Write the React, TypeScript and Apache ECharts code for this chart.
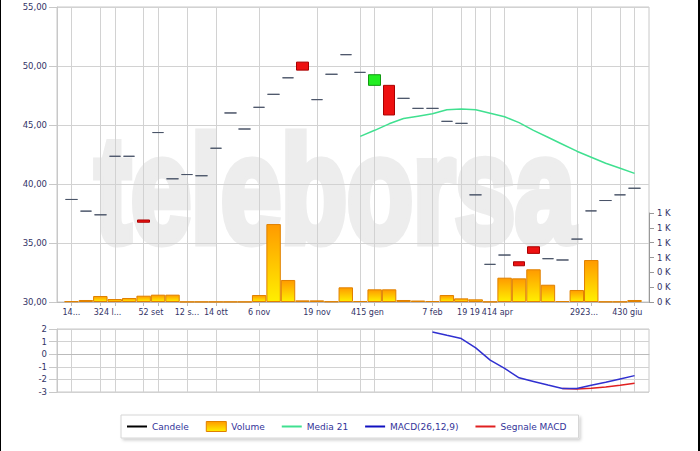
import React, { useEffect, useRef } from 'react';
import * as echarts from 'echarts';

// sessions that carry a vertical grid line / tick (data index)
const tickSessions = [0, 2, 3, 5, 6, 8, 10, 13, 17, 20, 21, 25, 27, 28, 29, 30, 35, 36, 38, 39];
// x-axis labels as the reference prints them, with the sessions they belong to
const xLabelTexts = ['14...', '324 l...', '52 set', '12 s...', '14 ott', '6 nov', '19 nov', '415 gen', '7 feb', '19 19', '414 apr', '2923...', '430 giu'];
const xLabelSessions = [[0], [2, 3], [5, 6], [8], [10], [13], [17], [20, 21], [25], [27, 28], [29, 30], [35, 36], [38, 39]];

const openPrices = [
  38.69, 37.7, 37.39, 42.35, 42.35, 36.95, 44.36, 40.44, 40.8, 40.7,
  43.03, 46.02, 44.66, 46.5, 47.6, 49.0, 50.33, 47.15, 49.3, 50.96,
  49.46, 48.36, 48.36, 47.26, 46.41, 46.41, 45.31, 45.14, 39.08, 33.19,
  33.98, 33.41, 34.68, 33.67, 33.56, 35.33, 37.72, 38.6, 39.08, 39.64,
];
const closePrices = [
  38.69, 37.7, 37.39, 42.35, 42.35, 36.76, 44.36, 40.44, 40.8, 40.7,
  43.03, 46.02, 44.66, 46.5, 47.6, 49.0, 49.65, 47.15, 49.3, 50.96,
  49.46, 49.26, 45.85, 47.26, 46.41, 46.41, 45.31, 45.14, 39.08, 33.19,
  33.98, 33.07, 34.12, 33.67, 33.56, 35.33, 37.72, 38.6, 39.08, 39.64,
];
const volumes = [
  10, 27, 81, 40, 54, 85, 99, 99, 3, 3,
  3, 3, 3, 94, 1051, 297, 22, 22, 8, 198,
  13, 171, 171, 27, 20, 13, 94, 49, 36, 5,
  328, 319, 441, 233, 13, 162, 566, 5, 5, 27,
];
const media21 = [
  null, null, null, null, null, null, null, null, null, null,
  null, null, null, null, null, null, null, null, null, null,
  44.04, 44.55, 45.1, 45.55, 45.75, 45.95, 46.3, 46.35, 46.3, 46.0,
  45.7, 45.2, 44.55, 43.96, 43.37, 42.78, 42.27, 41.76, 41.34, 40.9,
];
const macdLine = [
  null, null, null, null, null, null, null, null, null, null,
  null, null, null, null, null, null, null, null, null, null,
  null, null, null, null, null, 1.77, 1.5, 1.24, 0.5, -0.47,
  -1.13, -1.87, -2.16, -2.45, -2.73, -2.73, -2.47, -2.22, -1.96, -1.7,
];
const signalLine = [
  null, null, null, null, null, null, null, null, null, null,
  null, null, null, null, null, null, null, null, null, null,
  null, null, null, null, null, null, null, null, null, null,
  null, null, null, null, -2.73, -2.77, -2.7, -2.6, -2.46, -2.3,
];

const N = openPrices.length;
// one empty slot before and after the sessions
const categories = Array.from({ length: N + 2 }, (_, i) => String(i));
const tickSet = new Set(tickSessions.map((s) => s + 1));
const labelled = (i: number) => tickSet.has(i);
// label anchor = middle of the sessions it belongs to (in slot units)
const labelPos = xLabelSessions.map((g) => g.reduce((a, b) => a + b, 0) / g.length + 1);

const FLAT = '#4a5468';
const AXIS_TXT = '#333366';
const FONT = 'DejaVu Sans';
const GRIDC = '#d2d2d2';

const pairs = (arr: (number | null)[]) =>
  arr.map((v, i) => (v === null ? null : [i + 1, v])).filter((d) => d !== null);

export default function App() {
  const ref = useRef<HTMLDivElement>(null);
  useEffect(() => {
    if (!ref.current) return;
    const chart = echarts.init(ref.current, undefined, { renderer: 'svg' });

    const candleData = openPrices.map((o, i) => {
      const c = closePrices[i];
      const item: any = { value: [i + 1, o, c, Math.min(o, c), Math.max(o, c)] };
      if (o === c) {
        item.itemStyle = {
          color: FLAT, color0: FLAT, borderColor: FLAT, borderColor0: FLAT, borderColorDoji: FLAT,
        };
      }
      return item;
    });

    const volGrad = new echarts.graphic.LinearGradient(0, 0, 0, 1, [
      { offset: 0, color: '#ff9a00' },
      { offset: 1, color: '#ffef00' },
    ]);

    const xAxisBase = (gridIndex: number, showTicks: boolean) => ({
      type: 'category',
      gridIndex,
      data: categories,
      boundaryGap: false,
      axisLine: { show: gridIndex !== 1, lineStyle: { color: '#bbbbbb' } },
      axisTick: {
        show: showTicks,
        interval: (i: number) => labelled(i),
        length: 4,
        lineStyle: { color: '#bbbbbb' },
      },
      axisLabel: { show: false },
      splitLine: {
        show: gridIndex !== 1,
        interval: (i: number) => labelled(i),
        lineStyle: { color: GRIDC, width: 1 },
      },
    });

    const lineIcon = 'path://M0,0L20,0L20,2L0,2Z';

    chart.setOption({
      animation: false,
      backgroundColor: '#ffffff',
      textStyle: { fontFamily: FONT },
      graphic: [
        {
          type: 'text',
          x: 95,
          y: 190,
          scaleX: 0.72,
          z: -10,
          silent: true,
          style: {
            text: 'teleborsa',
            fontSize: 150,
            fontWeight: 'bold',
            fontFamily: 'Liberation Sans',
            fill: '#ededed',
            stroke: '#ededed',
            lineWidth: 9,
            align: 'left',
            verticalAlign: 'middle',
          },
        },
        { type: 'rect', shape: { x: 0, y: 0, width: 1, height: 451 }, style: { fill: '#000' } },
        { type: 'rect', shape: { x: 698, y: 0, width: 2, height: 451 }, style: { fill: '#000' } },
      ],
      legend: {
        left: 121,
        top: 415,
        padding: [6, 12, 6, 6],
        itemWidth: 20,
        itemHeight: 10,
        itemGap: 17,
        backgroundColor: '#ffffff',
        borderColor: '#d6d6d6',
        borderWidth: 1,
        shadowColor: 'rgba(0,0,0,0.18)',
        shadowBlur: 3,
        shadowOffsetX: 2,
        shadowOffsetY: 2,
        textStyle: { color: '#333399', fontSize: 9, fontFamily: FONT },
        data: [
          { name: 'Candele', icon: lineIcon, itemStyle: { color: '#000000', borderWidth: 0 } },
          { name: 'Volume', icon: 'rect', itemStyle: { color: volGrad, borderColor: '#e08000', borderWidth: 1 } },
          { name: 'Media 21', icon: lineIcon, itemStyle: { color: '#40e090', borderWidth: 0 } },
          { name: 'MACD(26,12,9)', icon: lineIcon, itemStyle: { color: '#1010c0', borderWidth: 0 } },
          { name: 'Segnale MACD', icon: lineIcon, itemStyle: { color: '#e02020', borderWidth: 0 } },
        ],
      },
      grid: [
        { left: 57, right: 51, top: 7, height: 295, show: true, borderColor: '#c8c8c8', borderWidth: 1, backgroundColor: 'transparent' },
        { left: 57, right: 51, top: 213, height: 89 },
        { left: 57, right: 51, top: 329, height: 63, show: true, borderColor: '#c8c8c8', borderWidth: 1 },
      ],
      xAxis: [
        xAxisBase(0, true),
        xAxisBase(1, false),
        xAxisBase(2, false),
        {
          type: 'value',
          gridIndex: 0,
          position: 'bottom',
          min: 0,
          max: N + 1,
          axisLine: { show: false },
          axisTick: { show: false },
          splitLine: { show: false },
          axisLabel: {
            customValues: labelPos,
            showMinLabel: true,
            showMaxLabel: true,
            hideOverlap: false,
            formatter: (v: number) => {
              const k = labelPos.findIndex((p) => Math.abs(p - v) < 1e-6);
              return k >= 0 ? xLabelTexts[k] : '';
            },
            color: AXIS_TXT,
            fontSize: 8,
            fontFamily: FONT,
            margin: 6,
          },
        },
      ],
      yAxis: [
        {
          type: 'value',
          gridIndex: 0,
          min: 30,
          max: 55,
          interval: 5,
          position: 'left',
          axisLine: { show: true, lineStyle: { color: '#c8c8c8' } },
          axisTick: { show: true, length: 8, lineStyle: { color: '#c8c8c8' } },
          axisLabel: {
            color: AXIS_TXT,
            fontSize: 8.5,
            fontFamily: FONT,
            margin: 10,
            formatter: (v: number) => v.toFixed(2).replace('.', ','),
          },
          splitLine: { show: true, lineStyle: { color: GRIDC } },
        },
        {
          type: 'value',
          gridIndex: 1,
          min: 0,
          max: 1200,
          interval: 200,
          position: 'right',
          axisLine: { show: true, lineStyle: { color: '#999999' } },
          axisTick: { show: true, length: 5, lineStyle: { color: '#999999' } },
          axisLabel: {
            color: AXIS_TXT,
            fontSize: 8.5,
            fontFamily: FONT,
            margin: 8,
            formatter: (v: number) => `${Math.round(v / 1000)} K`,
          },
          splitLine: { show: false },
        },
        {
          type: 'value',
          gridIndex: 2,
          min: -3,
          max: 2,
          interval: 1,
          position: 'left',
          axisLine: { show: true, lineStyle: { color: '#c8c8c8' } },
          axisTick: { show: true, length: 8, lineStyle: { color: '#c8c8c8' } },
          axisLabel: { color: AXIS_TXT, fontSize: 8.5, fontFamily: FONT, margin: 10 },
          splitLine: { show: true, lineStyle: { color: GRIDC } },
        },
      ],
      series: [
        {
          name: 'Volume',
          type: 'bar',
          xAxisIndex: 1,
          yAxisIndex: 1,
          barCategoryGap: '0%',
          data: volumes.map((v, i) => [i + 1, v]),
          itemStyle: { color: volGrad, borderColor: '#e08000', borderWidth: 1 },
          z: 2,
        },
        {
          name: 'Candele',
          type: 'candlestick',
          xAxisIndex: 0,
          yAxisIndex: 0,
          barWidth: 12,
          encode: { x: 0, y: [1, 2, 3, 4] },
          data: candleData,
          itemStyle: {
            color: '#22ee22',
            borderColor: '#119911',
            color0: '#ee1111',
            borderColor0: '#aa0000',
            borderWidth: 1,
          },
          z: 4,
        },
        {
          name: 'Media 21',
          type: 'line',
          xAxisIndex: 0,
          yAxisIndex: 0,
          data: pairs(media21),
          showSymbol: false,
          symbol: 'none',
          itemStyle: { color: '#40e090' },
          lineStyle: { color: '#40e090', width: 1.5 },
          z: 3,
        },
        {
          name: 'MACD(26,12,9)',
          type: 'line',
          xAxisIndex: 2,
          yAxisIndex: 2,
          data: pairs(macdLine),
          symbol: 'none',
          itemStyle: { color: '#3030d0' },
          lineStyle: { color: '#3030d0', width: 1.5 },
          z: 3,
        },
        {
          name: 'Segnale MACD',
          type: 'line',
          xAxisIndex: 2,
          yAxisIndex: 2,
          data: pairs(signalLine),
          symbol: 'none',
          itemStyle: { color: '#e02020' },
          lineStyle: { color: '#e02020', width: 1.5 },
          z: 2,
        },
      ],
    });
    return () => chart.dispose();
  }, []);

  return (
    <div
      ref={ref}
      style={{ position: 'fixed', left: 0, top: 0, width: 700, height: 451 }}
    />
  );
}
